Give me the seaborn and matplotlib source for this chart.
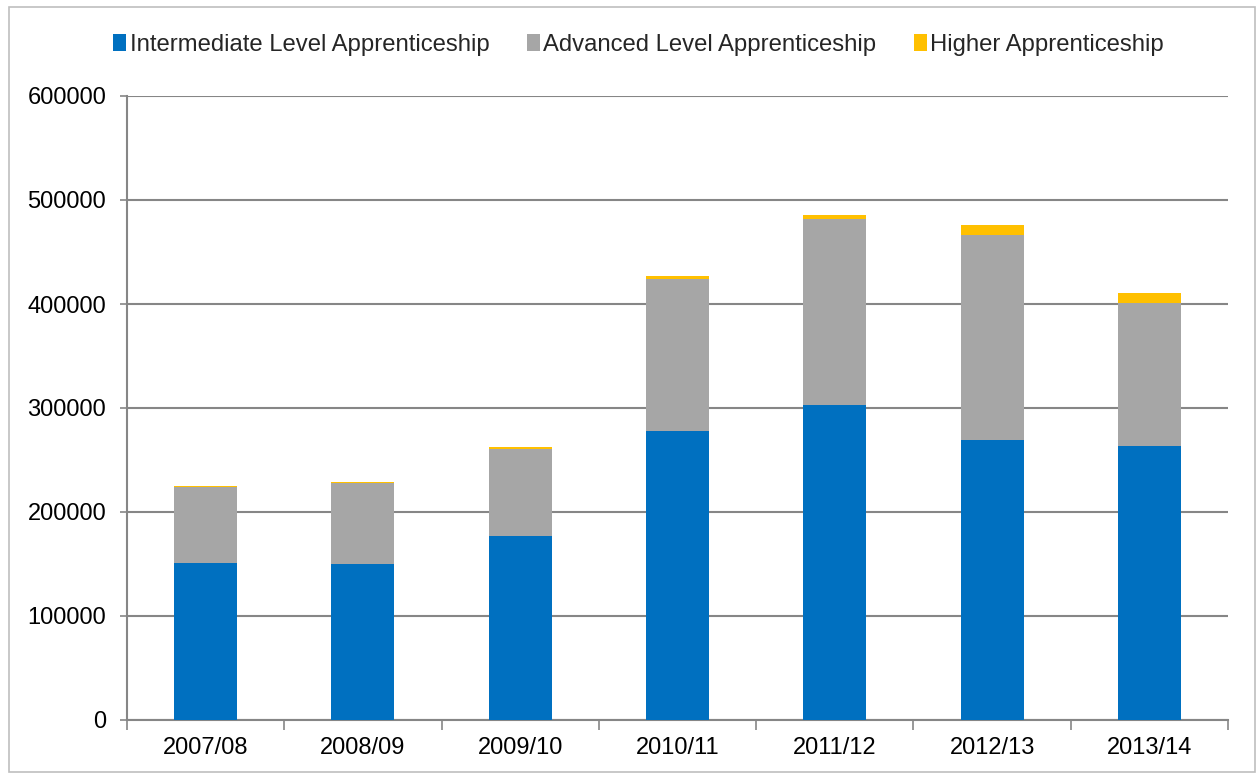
import matplotlib
matplotlib.use("Agg")
import matplotlib.pyplot as plt
import seaborn as sns
import numpy as np
import pandas as pd
from matplotlib.patches import Patch, Rectangle

years = ["2007/08", "2008/09", "2009/10", "2010/11", "2011/12", "2012/13", "2013/14"]
intermediate = [151300, 149700, 177200, 277900, 303200, 269500, 263800]
advanced = [73000, 78500, 83400, 146100, 178200, 196500, 137400]
higher = [300, 500, 2200, 2900, 4200, 9600, 9400]
series_names = ["Intermediate Level Apprenticeship", "Advanced Level Apprenticeship", "Higher Apprenticeship"]
colors = ["#0070C0", "#A6A6A6", "#FFC000"]
yticks = [0, 100000, 200000, 300000, 400000, 500000, 600000]

sns.set_theme(style="white")
plt.rcParams["font.family"] = ["Liberation Sans", "DejaVu Sans"]

df = pd.DataFrame({"year": years, "inter": intermediate, "adv": advanced, "high": higher})
df["lvl2"] = df["inter"] + df["adv"]
df["lvl3"] = df["lvl2"] + df["high"]

fig = plt.figure(figsize=(12.57, 7.74), dpi=100)
ax = fig.add_axes([127/1257, 1 - 720/774, (1228-127)/1257, (720-96)/774])

for col, c in zip(["lvl3", "lvl2", "inter"], colors[::-1]):
    sns.barplot(data=df, x="year", y=col, order=years, color=c, width=0.4,
                saturation=1, ax=ax, edgecolor="none", zorder=3)

ax.set_ylim(0, 600000)
ax.set_xlim(-0.5, len(years) - 0.5)
ax.set_yticks(yticks)
ax.set_yticklabels([str(v) for v in yticks])
ax.set_xlabel("")
ax.set_ylabel("")
grid_c = "#868686"
ax.yaxis.grid(True, color=grid_c, linewidth=1.5, zorder=0)
ax.set_axisbelow(True)
for s in ["top", "right"]:
    ax.spines[s].set_visible(False)
for s in ["left", "bottom"]:
    ax.spines[s].set_color(grid_c)
    ax.spines[s].set_linewidth(1.5)

ax.set_xticks(np.arange(-0.5, len(years) + 0.5, 1), minor=True)
ax.tick_params(axis="x", which="minor", length=7, width=1.2, color=grid_c, direction="out", bottom=True)
ax.tick_params(axis="x", which="major", length=0, pad=12, labelsize=17, labelcolor="black")
ax.tick_params(axis="y", which="major", length=5, width=1.2, color=grid_c, direction="out", left=True,
               pad=10, labelsize=17, labelcolor="black")

handles = [Patch(facecolor=c, edgecolor="none") for c in colors]
fig.legend(handles, series_names, loc="center", bbox_to_anchor=(0.508, 0.942), ncol=3,
           frameon=False, fontsize=17.2, handlelength=0.55, handleheight=0.75,
           handletextpad=0.15, columnspacing=1.55)

fig.patches.append(Rectangle((9/1257, 2/774), 1246/1257, 765/774, transform=fig.transFigure,
                             fill=False, edgecolor="#BFBFBF", linewidth=1.2))

fig.savefig("out.png", dpi=100)
